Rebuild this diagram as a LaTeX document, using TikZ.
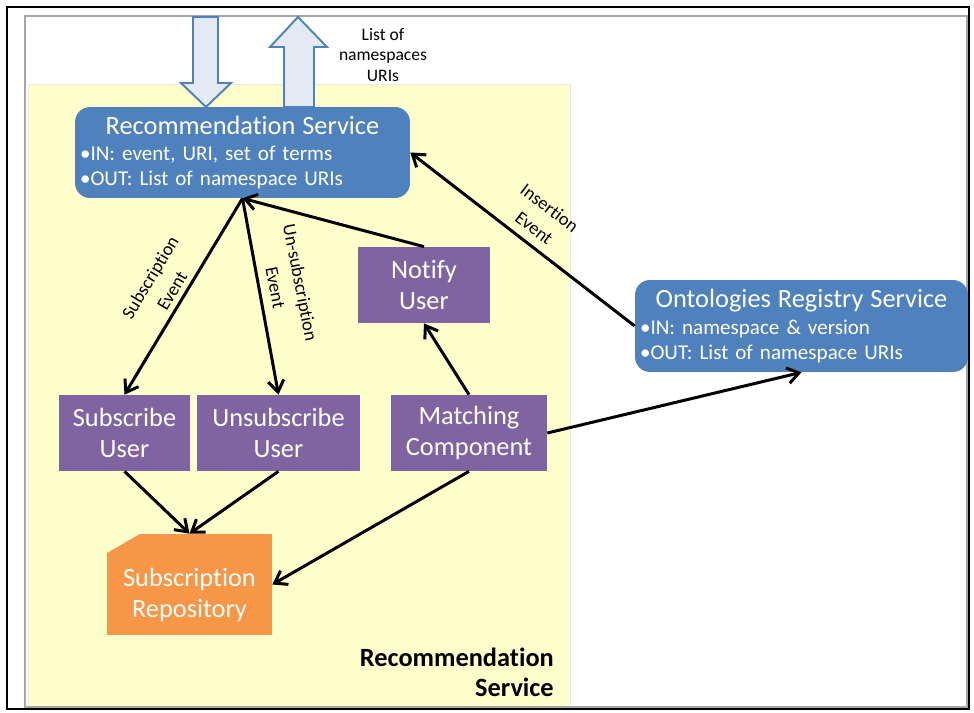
\documentclass[tikz,border=0pt]{standalone}
\usepackage{fontspec}
\setmainfont{Carlito}[Ligatures=NoCommon]
\usetikzlibrary{arrows.meta}

\definecolor{svcblue}{HTML}{4F81BD}
\definecolor{cmppurple}{HTML}{8064A2}
\definecolor{repoorange}{HTML}{F79646}
\definecolor{areayellow}{HTML}{FFFFCC}
\definecolor{flowfill}{HTML}{E4EAF4}

\tikzset{
  svcbox/.style={rectangle, rounded corners=0.3cm, fill=svcblue, text=white, align=left,
    inner xsep=0.1cm, inner ysep=0cm, font=\fontsize{12}{14.2}\selectfont},
  cmpbox/.style={rectangle, fill=cmppurple, text=white, align=center, minimum height=1.52cm,
    inner sep=0cm, font=\fontsize{15}{17.5}\selectfont},
  repobox/.style={rectangle, minimum width=3.3cm, minimum height=2.02cm, text=white, align=center,
    inner sep=0cm, font=\fontsize{15}{17.5}\selectfont,
    path picture={\fill[repoorange] (path picture bounding box.south west)
      -- (path picture bounding box.south east) -- (path picture bounding box.north east)
      -- ([xshift=0.66cm]path picture bounding box.north west)
      -- ([yshift=-0.38cm]path picture bounding box.north west) -- cycle;}},
  flow/.style={line width=1.7pt, -{Straight Barb[length=6.5pt,width=9pt]}},
  evlabel/.style={align=center, font=\fontsize{10.5}{14.5}\selectfont},
  blockarrow/.style={fill=flowfill, draw=svcblue, line width=1.1pt, line join=miter},
}

\begin{document}
\begin{tikzpicture}[x=0.02cm, y=-0.02cm]

    \useasboundingbox (0,0) rectangle (974,713);

    % recommendation service area
    \fill[areayellow, draw=black!8] (28,84) rectangle (570,706);

    % frames
    \draw[gray!70, line width=0.6pt] (25,16) rectangle (967,707);
    \draw[line width=1.2pt] (7,7) rectangle (969,709);

    % request in / list out
    \draw[blockarrow] (193,17) -- (218,17) -- (218,83) -- (231,83) -- (206,107) -- (181,83) -- (193,83) -- cycle;
    \draw[blockarrow] (284,107) -- (284,47) -- (270,47) -- (298,17) -- (327,47) -- (314,47) -- (314,107) -- cycle;
    \node[align=center, font=\fontsize{10}{11.5}\selectfont] (outLbl) at (383,55) {List of\\namespaces\\URIs};

    % services
    \node[svcbox, text width=6.5cm, minimum height=1.82cm] (rec) at (242.5,152.5)
        {\hfil{\fontsize{15}{18}\selectfont Recommendation Service}\hfil\\[1pt]
         •IN: event, URI, set of terms\\ •OUT: List of namespace URIs};
    \node[svcbox, text width=6.46cm, minimum height=1.84cm] (ont) at (801.5,326)
        {\hfil{\fontsize{15}{18}\selectfont Ontologies Registry Service}\hfil\\[1pt]
         •IN: namespace \& version\\ •OUT: List of namespace URIs};

    % components
    \node[cmpbox, minimum width=2.64cm] (notify) at (424,285) {Notify\\User};
    \node[cmpbox, minimum width=2.64cm] (sub) at (124.5,433) {Subscribe\\User};
    \node[cmpbox, minimum width=3.28cm] (unsub) at (278.5,433) {Unsubscribe\\User};
    \node[cmpbox, minimum width=3.12cm] (match) at (469,433) {Matching\\Component};

    % repository
    \node[repobox] (repo) at (189.5,584.5) {\rule{0pt}{22pt}Subscription\\Repository};

    % area name
    \node[anchor=east, align=right, font=\bfseries\fontsize{15}{17}\selectfont] (areaLbl) at (560,672) {Recommendation\\Service};

    % events
    \draw[flow] (rec.south) -- (sub.north);
    \draw[flow] (rec.south) -- (unsub.north);
    \draw[flow] (notify.north) -- (rec.south);
    \draw[flow] (ont.west) -- (rec.east);
    \draw[flow] (match.north) -- (notify.south);
    \draw[flow] (match.east) -- (ont.south);
    \node[evlabel, rotate=59] (subEv) at (161,284) {Subscription\\Event};
    \node[evlabel, rotate=-79] (unsubEv) at (288,285) {Un-subscription\\Event};
    \node[evlabel, rotate=-37] (insEv) at (542,218) {Insertion\\Event};

    % storage
    \draw[flow] (sub.south) -- (repo.north);
    \draw[flow] (unsub.south) -- (repo.north);
    \draw[flow] (match.south) -- (repo.east);

\end{tikzpicture}
\end{document}
